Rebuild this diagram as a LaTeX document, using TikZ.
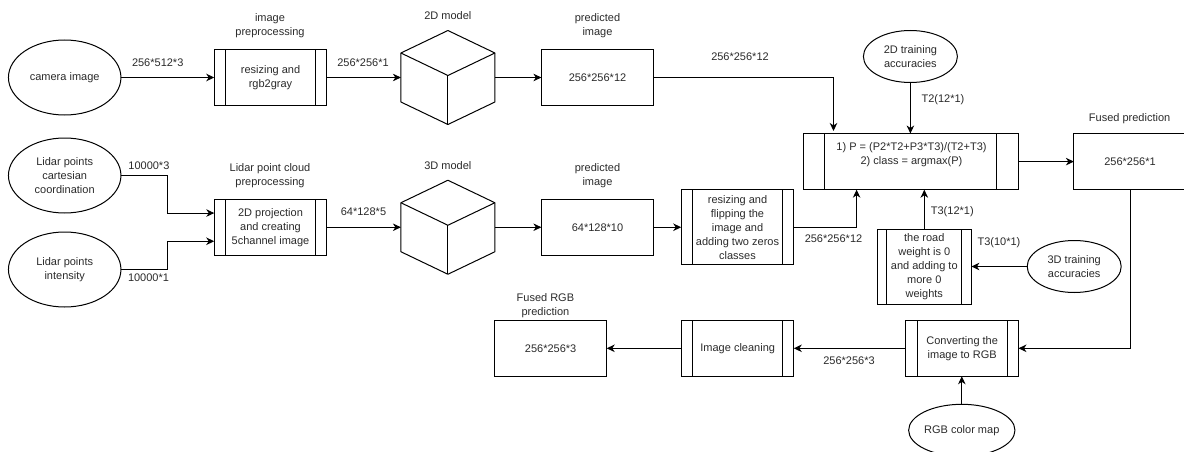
\documentclass[tikz,border=0pt]{standalone}
\usepackage{fontspec}
\setmainfont{Liberation Sans}
\usetikzlibrary{arrows.meta,calc,shapes.geometric}
\definecolor{ink}{HTML}{2A2A2A}
\tikzset{
  base/.style={draw=black,line width=1pt,text=ink,align=center,inner sep=0pt,outer sep=0pt,font=\fontsize{11}{14}\selectfont},
  oval/.style n args={2}{base,ellipse,minimum width=#1,minimum height=#2},
  plainbox/.style n args={2}{base,rectangle,minimum width=#1,minimum height=#2},
  procbox/.style n args={3}{plainbox={#1}{#2},path picture={
    \draw[line width=1pt] ([xshift=#3]path picture bounding box.north west) -- ([xshift=#3]path picture bounding box.south west);
    \draw[line width=1pt] ([xshift=-#3]path picture bounding box.north east) -- ([xshift=-#3]path picture bounding box.south east);}},
  lab/.style={text=ink,align=center,inner sep=0pt,font=\fontsize{11}{14}\selectfont},
  conn/.style={draw=black,line width=1pt,-{Stealth[length=8pt,width=7.5pt,inset=2.5pt]}},
  cubeframe/.style={minimum width=94pt,minimum height=94pt,inner sep=0pt,outer sep=0pt},
  cubeline/.style={draw=black,line width=1pt,line join=round}
}
\newcommand{\cubelines}[1]{%
  \draw[cubeline] (#1.north) -- ($(#1.north east)+(0,22.5)$) -- ($(#1.south east)+(0,-22.5)$) -- (#1.south) -- ($(#1.south west)+(0,-22.5)$) -- ($(#1.north west)+(0,22.5)$) -- cycle;
  \draw[cubeline] ($(#1.north west)+(0,22.5)$) -- ($(#1.center)+(0,-2)$) -- ($(#1.north east)+(0,22.5)$);
  \draw[cubeline] ($(#1.center)+(0,-2)$) -- (#1.south);}
\begin{document}
\begin{tikzpicture}[x=1pt,y=-1pt]
\useasboundingbox (0,0) rectangle (1184,452);
% ovals
\node[oval={112.5pt}{75pt}] (cam) at (64.7,77.5) {camera image};
\node[oval={112.5pt}{75pt}] (lidc) at (64.7,175.5) {Lidar points\\cartesian\\coordination};
\node[oval={112.5pt}{75pt}] (lidi) at (64.7,269.5) {Lidar points\\intensity};
\node[oval={94pt}{52pt}] (acc2) at (910.4,56.5) {2D training\\accuracies};
\node[oval={94pt}{52pt}] (acc3) at (1074.2,266.5) {3D training\\accuracies};
\node[oval={94pt}{52pt}] (cmap) at (961.8,430.3) {RGB color map};
% process boxes
\node[procbox={112.5pt}{56pt}{11.3pt}] (pre2) at (270.5,77.5) {resizing and\\rgb2gray};
\node[procbox={112.5pt}{56.5pt}{11.3pt}] (pre3) at (270.5,227.25) {2D projection\\and creating\\5channel image};
\node[procbox={112.5pt}{75pt}{11.2pt}] (flip) at (737.5,227.25) {resizing and\\flipping the\\image and\\adding two zeros\\classes};
\node[procbox={215pt}{56.2pt}{21.6pt}] (fuse) at (910.5,161.6) {};
\node[lab] (fusetxt) at (911.5,154.5) {1) P = (P2*T2+P3*T3)/(T2+T3)\\2) class = argmax(P)};
\node[procbox={94.2pt}{75pt}{9.6pt}] (road) at (924.3,266.8) {the road\\weight is 0\\and adding to\\more 0\\weights};
\node[procbox={112.2pt}{56pt}{11pt}] (clean) at (737.7,348.3) {Image cleaning};
\node[procbox={112.5pt}{56pt}{11.3pt}] (conv) at (962.2,348.3) {Converting the\\image to RGB};
% plain boxes
\node[plainbox={112.2pt}{56pt}] (pred2) at (597.5,77.5) {256*256*12};
\node[plainbox={112.2pt}{56.5pt}] (pred3) at (597.5,227.25) {64*128*10};
\node[plainbox={112.2pt}{56.2pt}] (fused) at (1130,161.6) {256*256*1};
\node[plainbox={112.2pt}{56pt}] (final) at (550.6,348.3) {256*256*3};
% cubes
\node[cubeframe] (cube2) at (447.9,77.5) {};
\node[cubeframe] (cube3) at (447.9,227.25) {};
\cubelines{cube2}
\cubelines{cube3}
% titles
\node[lab] (t1) at (270,26) {image\\preprocessing};
\node[lab] (t2) at (447.8,16) {2D model};
\node[lab] (t3) at (597.5,26) {predicted\\image};
\node[lab] (t4) at (270,176) {Lidar point cloud\\preprocessing};
\node[lab] (t5) at (447.8,166) {3D model};
\node[lab] (t6) at (597.5,176) {predicted\\image};
\node[lab] (t7) at (1129.6,119) {Fused prediction};
\node[lab] (t8) at (545.4,306) {Fused RGB\\prediction};
% connector labels
\node[lab] (l1) at (157.7,63) {256*512*3};
\node[lab] (l2) at (363,63) {256*256*1};
\node[lab] (l3) at (148.9,166) {10000*3};
\node[lab] (l4) at (148.5,278) {10000*1};
\node[lab] (l5) at (363.5,212) {64*128*5};
\node[lab] (l6) at (740,57) {256*256*12};
\node[lab] (l7) at (943,100) {T2(12*1)};
\node[lab] (l8) at (833.5,239) {256*256*12};
\node[lab] (l9) at (952.3,212) {T3(12*1)};
\node[lab] (l10) at (999,243) {T3(10*1)};
\node[lab] (l11) at (849,361) {256*256*3};
% connectors
\draw[conn] (cam.east) -- (pre2.west);
\draw[conn] (pre2.east) -- (cube2.west);
\draw[conn] (cube2.east) -- (pred2.west);
\draw[conn] (lidc.east) -| ($(pre3.west)+(-46.7,-14.2)$) -- ($(pre3.west)+(0,-14.2)$);
\draw[conn] (lidi.east) -| ($(pre3.west)+(-46.7,14)$) -- ($(pre3.west)+(0,14)$);
\draw[conn] (pre3.east) -- (cube3.west);
\draw[conn] (cube3.east) -- (pred3.west);
\draw[conn] (pred3.east) -- (flip.west);
\draw[conn] (pred2.east) -| ($(fuse.north west)+(30.5,-2.5)$);
\draw[conn] (acc2.south) -- (acc2.south |- fuse.north);
\draw[conn] (flip.east) -| ($(fuse.south west)+(53.6,0)$);
\draw[conn] (road.north) -- (road.north |- fuse.south);
\draw[conn] (acc3.west) -- (acc3.west -| road.east);
\draw[conn] (fuse.east) -- (fused.west);
\draw[conn] (fused.south) |- (conv.east);
\draw[conn] (conv.west) -- (clean.east);
\draw[conn] (clean.west) -- (final.east);
\draw[conn] (cmap.north) -- (cmap.north |- conv.south);
\end{tikzpicture}
\end{document}
